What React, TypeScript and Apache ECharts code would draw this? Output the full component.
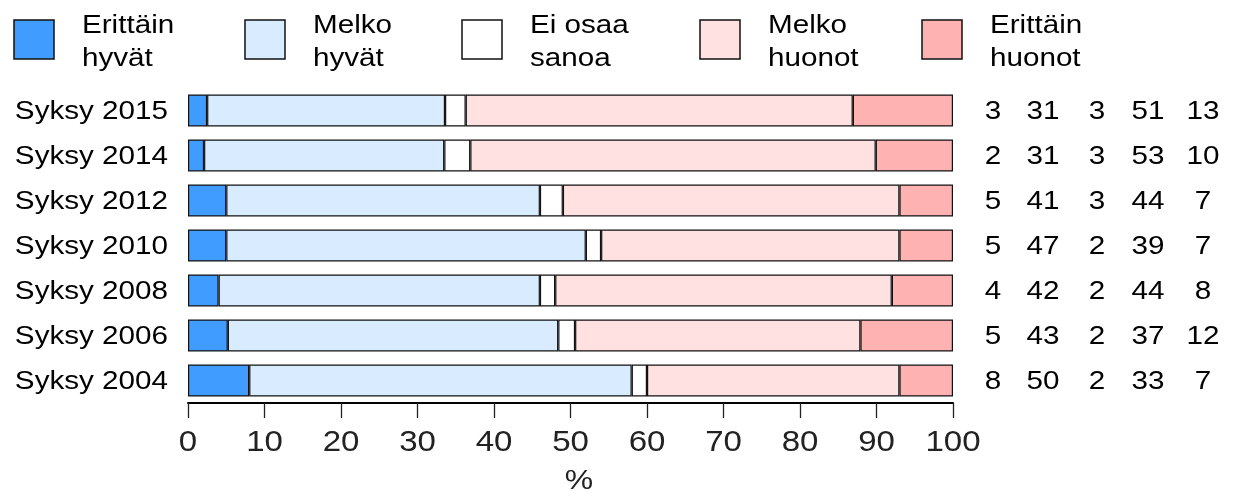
import React, { useEffect, useRef } from "react";
import * as echarts from "echarts";

const categories = ["Syksy 2015", "Syksy 2014", "Syksy 2012", "Syksy 2010", "Syksy 2008", "Syksy 2006", "Syksy 2004"];
const erittainHyvat = [2.5, 2.1, 5.0, 5.0, 4.0, 5.2, 8.0];
const melkoHyvat = [31.1, 31.4, 41.0, 47.0, 42.0, 43.2, 50.0];
const eiOsaaSanoa = [2.7, 3.4, 3.0, 2.0, 2.0, 2.2, 2.0];
const melkoHuonot = [50.6, 53.0, 44.0, 39.0, 44.0, 37.3, 33.0];
const erittainHuonot = [13.1, 10.1, 7.0, 7.0, 8.0, 12.1, 7.0];

// Rounded percentages printed at the right of each bar
const shownPercents = [
  [3, 31, 3, 51, 13],
  [2, 31, 3, 53, 10],
  [5, 41, 3, 44, 7],
  [5, 47, 2, 39, 7],
  [4, 42, 2, 44, 8],
  [5, 43, 2, 37, 12],
  [8, 50, 2, 33, 7],
];

const seriesNames = ["Erittäin hyvät", "Melko hyvät", "Ei osaa sanoa", "Melko huonot", "Erittäin huonot"];
const legendLines = [["Erittäin", "hyvät"], ["Melko", "hyvät"], ["Ei osaa", "sanoa"], ["Melko", "huonot"], ["Erittäin", "huonot"]];
const xTicks = [0, 10, 20, 30, 40, 50, 60, 70, 80, 90, 100];
const xAxisName = "%";

const colors = ["#409CFF", "#D9ECFF", "#FFFFFF", "#FFE1E2", "#FFB2B2"];
const legendX = [14, 245, 462, 700, 922];
const numberColumnX = [993, 1043, 1097, 1148, 1203];
const FAM = '"Liberation Sans", Arial, Helvetica, sans-serif';
const SX = 1.14;

export default function App() {
  const ref = useRef<HTMLDivElement>(null);
  useEffect(() => {
    const chart = echarts.init(ref.current!, null, { renderer: "svg" });
    const values = [erittainHyvat, melkoHyvat, eiOsaaSanoa, melkoHuonot, erittainHuonot];
    chart.setOption({
      animation: false,
      grid: { left: 188, top: 88, width: 765, height: 315 },
      xAxis: {
        type: "value",
        min: 0,
        max: 100,
        interval: 10,
        axisLine: { show: true, lineStyle: { color: "#000", width: 2 } },
        axisTick: { show: true, length: 15, lineStyle: { color: "#222", width: 1.3 } },
        axisLabel: { show: false },
        splitLine: { show: false },
      },
      yAxis: {
        type: "category",
        data: categories,
        inverse: true,
        axisLine: { show: false },
        axisTick: { show: false },
        axisLabel: { show: false },
      },
      series: values.map((v, i) => ({
        type: "bar",
        stack: "total",
        name: seriesNames[i],
        data: v,
        barWidth: 32,
        itemStyle: { color: colors[i], borderColor: "#111", borderWidth: 1.2 },
      })),
    });

    const g: any[] = [];
    const text = (x: number, y: number, t: string, size: number, align: string, fill = "#000") => ({
      type: "text",
      x,
      y,
      scaleX: SX,
      style: { text: t, fontSize: size, fontFamily: FAM, fill, align, verticalAlign: "middle" },
      silent: true,
    });

    categories.forEach((c, r) => {
      const p = chart.convertToPixel({ gridIndex: 0 }, [0, r]) as number[];
      g.push(text(p[0] - 20, p[1], c, 26, "right"));
      shownPercents[r].forEach((n, j) => {
        g.push(text(numberColumnX[j], p[1], String(n), 26, "center"));
      });
    });

    xTicks.forEach((t) => {
      const px = chart.convertToPixel({ xAxisIndex: 0 }, t) as number;
      g.push(text(px, 441, String(t), 29, "center", "#222"));
    });
    g.push(text(579, 479, xAxisName, 28, "center", "#222"));

    legendLines.forEach((lines, i) => {
      g.push({
        type: "rect",
        shape: { x: legendX[i], y: 20, width: 40, height: 39 },
        style: { fill: colors[i], stroke: "#111", lineWidth: 1.5 },
        silent: true,
      });
      g.push(text(legendX[i] + 68, 24, lines[0], 26, "left"));
      g.push(text(legendX[i] + 68, 57, lines[1], 26, "left"));
    });

    chart.setOption({ graphic: g });
    return () => chart.dispose();
  }, []);
  return <div ref={ref} style={{ position: "fixed", left: 0, top: 0, width: 1236, height: 496 }} />;
}
